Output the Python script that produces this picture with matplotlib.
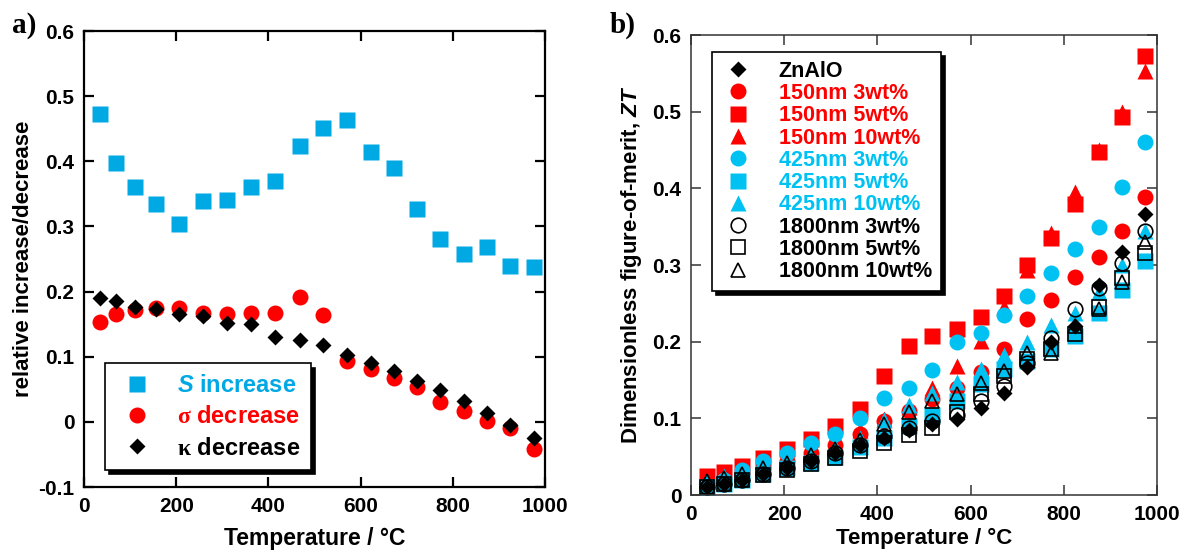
import numpy as np
import matplotlib
matplotlib.use("Agg")
from matplotlib import pyplot as plt

plt.rcParams['font.family'] = ['Liberation Sans', 'DejaVu Sans']
plt.rcParams['font.weight'] = 'bold'
plt.rcParams['mathtext.fontset'] = 'custom'
plt.rcParams['mathtext.it'] = 'Liberation Sans:italic:bold'
plt.rcParams['mathtext.rm'] = 'Liberation Serif'

# temperatures (deg C)
temp = [35, 70, 110, 155, 205, 258, 310, 362, 415, 468,
        518, 570, 622, 672, 722, 772, 825, 875, 925, 975]

# panel a
s_inc = [0.473, 0.397, 0.360, 0.335, 0.304, 0.339, 0.340, 0.361, 0.370, 0.423,
         0.451, 0.463, 0.415, 0.390, 0.327, 0.280, 0.258, 0.269, 0.240, 0.238]
sig_dec = [0.153, 0.166, 0.172, 0.175, 0.175, 0.167, 0.165, 0.167, 0.167, 0.192,
           0.164, 0.094, 0.081, 0.068, 0.053, 0.031, 0.017, 0.002, -0.010, -0.041]
kap_dec = [0.190, 0.186, 0.177, 0.173, 0.166, 0.163, 0.152, 0.150, 0.130, 0.126,
           0.118, 0.103, 0.091, 0.078, 0.063, 0.049, 0.032, 0.014, -0.005, -0.025]

# panel b, ZT
zt_znalo = [0.010, 0.015, 0.020, 0.028, 0.035, 0.045, 0.055, 0.065, 0.075, 0.085,
            0.093, 0.099, 0.114, 0.133, 0.167, 0.200, 0.220, 0.274, 0.317, 0.366]
zt_150_3 = [0.015, 0.020, 0.028, 0.035, 0.045, 0.055, 0.065, 0.080, 0.097, 0.110,
            0.125, 0.140, 0.160, 0.190, 0.229, 0.255, 0.285, 0.311, 0.344, 0.389]
zt_150_5 = [0.025, 0.030, 0.038, 0.048, 0.060, 0.073, 0.090, 0.112, 0.155, 0.194,
            0.208, 0.217, 0.232, 0.260, 0.300, 0.335, 0.380, 0.448, 0.493, 0.572]
zt_150_10 = [0.020, 0.025, 0.030, 0.038, 0.045, 0.058, 0.068, 0.085, 0.099, 0.115,
             0.140, 0.168, 0.201, 0.245, 0.293, 0.342, 0.395, 0.450, 0.500, 0.553]
zt_425_3 = [0.010, 0.020, 0.033, 0.045, 0.055, 0.068, 0.080, 0.100, 0.127, 0.139,
            0.163, 0.199, 0.211, 0.235, 0.260, 0.289, 0.321, 0.350, 0.402, 0.461]
zt_425_5 = [0.010, 0.015, 0.020, 0.028, 0.035, 0.042, 0.050, 0.062, 0.075, 0.090,
            0.105, 0.122, 0.145, 0.165, 0.175, 0.190, 0.208, 0.238, 0.268, 0.305]
zt_425_10 = [0.018, 0.025, 0.030, 0.038, 0.042, 0.052, 0.062, 0.075, 0.098, 0.118,
             0.133, 0.148, 0.165, 0.182, 0.200, 0.222, 0.238, 0.265, 0.300, 0.345]
zt_1800_3 = [0.010, 0.014, 0.020, 0.027, 0.035, 0.045, 0.055, 0.065, 0.077, 0.087,
             0.097, 0.105, 0.122, 0.142, 0.172, 0.205, 0.243, 0.270, 0.303, 0.344]
zt_1800_5 = [0.010, 0.014, 0.020, 0.026, 0.032, 0.040, 0.048, 0.058, 0.068, 0.078,
             0.088, 0.108, 0.132, 0.155, 0.178, 0.190, 0.210, 0.245, 0.283, 0.316]
zt_1800_10 = [0.018, 0.022, 0.028, 0.035, 0.042, 0.052, 0.060, 0.072, 0.093, 0.108,
              0.122, 0.132, 0.146, 0.162, 0.185, 0.185, 0.220, 0.243, 0.278, 0.330]

RED = '#ff0000'
CYAN_A = '#00a8e4'
CYAN = '#00c2f2'

fig = plt.figure(figsize=(11.89, 5.56), dpi=100)
ax1 = fig.add_axes([0.0707, 0.1241, 0.3877, 0.8201])
ax2 = fig.add_axes([0.5812, 0.1097, 0.3919, 0.8273])

def style(ax, lw, col):
    ax.tick_params(direction='in', top=True, right=True, length=7, width=lw,
                   color=col, labelsize=15, pad=7)
    for sp in ax.spines.values():
        sp.set_linewidth(lw)
        sp.set_edgecolor(col)
    for lab in ax.get_xticklabels() + ax.get_yticklabels():
        lab.set_fontweight('bold')

# ---- panel a
ax1.plot(temp, s_inc, 's', color=CYAN_A, ms=11, mec='none', label='$S$ increase')
ax1.plot(temp, sig_dec, 'o', color=RED, ms=11.5, mec='none', label=r'$\mathrm{\sigma}$ decrease')
ax1.plot(temp, kap_dec, 'D', color='black', ms=8.5, mec='none', label=r'$\mathrm{\kappa}$ decrease')
ax1.set_xlim(0, 1000)
ax1.set_ylim(-0.1, 0.6)
ax1.set_xticks([0, 200, 400, 600, 800, 1000])
ax1.set_yticks([-0.1, 0, 0.1, 0.2, 0.3, 0.4, 0.5, 0.6])
ax1.set_yticklabels(['-0.1', '0', '0.1', '0.2', '0.3', '0.4', '0.5', '0.6'])
ax1.set_xlabel('Temperature / °C', fontsize=16.5, fontweight='bold', labelpad=8)
ax1.set_ylabel('relative increase/decrease', fontsize=16, fontweight='bold', labelpad=3)
style(ax1, 1.6, 'black')
leg1 = ax1.legend(loc='lower left', bbox_to_anchor=(0.0456, 0.037), fontsize=17,
                  fancybox=False, framealpha=1, edgecolor='black',
                  shadow={'color': 'black', 'alpha': 1, 'ox': 3, 'oy': -3},
                  borderpad=0.45, labelspacing=0.35, handletextpad=0.8,
                  handlelength=1.8, borderaxespad=0)
leg1.get_frame().set_linewidth(1.2)
for t, c in zip(leg1.get_texts(), [CYAN_A, RED, 'black']):
    t.set_color(c)
    t.set_fontweight('bold')

# ---- panel b (drawing order: filled behind, open on top)
series = [
    ('ZnAlO', zt_znalo, 'D', 'black', True, 8.5),
    ('150nm 3wt%', zt_150_3, 'o', RED, True, 11.5),
    ('150nm 5wt%', zt_150_5, 's', RED, True, 11),
    ('150nm 10wt%', zt_150_10, '^', RED, True, 11.5),
    ('425nm 3wt%', zt_425_3, 'o', CYAN, True, 11.5),
    ('425nm 5wt%', zt_425_5, 's', CYAN, True, 11),
    ('425nm 10wt%', zt_425_10, '^', CYAN, True, 11.5),
    ('1800nm 3wt%', zt_1800_3, 'o', 'black', False, 10.5),
    ('1800nm 5wt%', zt_1800_5, 's', 'black', False, 10.5),
    ('1800nm 10wt%', zt_1800_10, '^', 'black', False, 10.5),
]
order = [2, 3, 1, 5, 6, 4, 0, 8, 9, 7]
handles = [None] * len(series)
for i in order:
    name, vals, mk, col, filled, ms = series[i]
    if filled:
        h, = ax2.plot(temp, vals, mk, color=col, ms=ms, mec='none', label=name)
    else:
        h, = ax2.plot(temp, vals, mk, mfc='none', mec=col, mew=1.2, ms=ms, label=name)
    handles[i] = h

ax2.set_xlim(0, 1000)
ax2.set_ylim(0, 0.6)
ax2.set_xticks([0, 200, 400, 600, 800, 1000])
ax2.set_yticks([0, 0.1, 0.2, 0.3, 0.4, 0.5, 0.6])
ax2.set_yticklabels(['0', '0.1', '0.2', '0.3', '0.4', '0.5', '0.6'])
ax2.set_xlabel('Temperature / °C', fontsize=16, fontweight='bold', labelpad=3)
ax2.set_ylabel('Dimensionless figure-of-merit, $ZT$', fontsize=16, fontweight='bold', labelpad=6)
style(ax2, 1.1, '#333333')
leg2 = ax2.legend(handles=handles, loc='upper left', bbox_to_anchor=(0.045, 0.963),
                  fontsize=15.5, fancybox=False, framealpha=1, edgecolor='black',
                  shadow={'color': 'black', 'alpha': 1, 'ox': 3, 'oy': -3},
                  borderpad=0.4, labelspacing=0.06, handletextpad=1.1,
                  handlelength=1.6, borderaxespad=0)
leg2.get_frame().set_linewidth(1.2)
for t, s in zip(leg2.get_texts(), series):
    col = s[3] if s[4] else 'black'
    t.set_color(col)
    t.set_fontweight('bold')

fig.text(0.010, 0.942, 'a)', family='Liberation Serif', fontweight='bold', fontsize=21, va='baseline')
fig.text(0.513, 0.942, 'b)', family='Liberation Serif', fontweight='bold', fontsize=21, va='baseline')

fig.savefig('out.png', dpi=100)
